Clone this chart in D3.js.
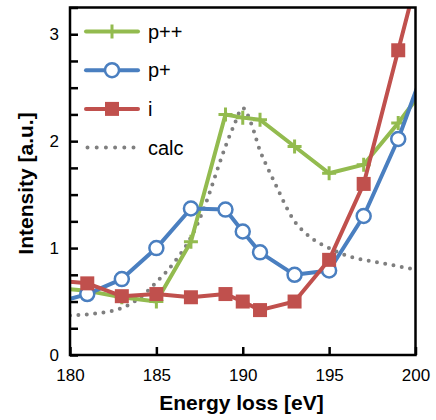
<!DOCTYPE HTML>
<html>
    <head>
        <meta charset="utf-8">
        <style>
            body { margin: 0; background: #fff; }
            text { font-family: "Liberation Sans", Arial, Helvetica, sans-serif; }
        </style>
        <script src="https://d3js.org/d3.v7.min.js"></script>
    </head>
    <body>
        <svg width="436" height="420"></svg>
        <script>
            // measured energies (eV); 179 and 201 lie just outside the frame
            var energy = [179, 181, 183, 185, 187, 189, 190, 191, 193, 195, 197, 199, 201];
            var pPlusPlus = [0.63, 0.60, 0.54, 0.50, 1.06, 2.25, 2.22, 2.20, 1.95, 1.70, 1.78, 2.17, 2.60];
            var pPlus = [0.48, 0.57, 0.71, 1.00, 1.37, 1.36, 1.155, 0.96, 0.75, 0.79, 1.30, 2.02, 2.90];
            var iSeries = [0.70, 0.67, 0.55, 0.57, 0.54, 0.57, 0.50, 0.42, 0.50, 0.89, 1.60, 2.85, 4.10];

            var calcEnergy = [180, 181, 182, 183, 184, 185, 186, 187, 187.5, 188, 188.5, 189, 189.5, 190,
                              190.5, 191, 191.5, 192, 192.5, 193, 193.5, 194, 195, 196, 197, 198, 199, 200];
            var calc = [0.37, 0.38, 0.40, 0.44, 0.53, 0.68, 0.86, 1.10, 1.27, 1.48, 1.72, 1.95, 2.15, 2.31,
                        2.16, 1.91, 1.73, 1.56, 1.39, 1.25, 1.16, 1.09, 1.00, 0.93, 0.89, 0.86, 0.83, 0.80];

            var xTicks = [180, 185, 190, 195, 200];
            var yTicks = [0, 1, 2, 3];
            var yMinorTicks = d3.range(0, 3.26, 0.25);

            var series = [
                { name: "p++", values: pPlusPlus, color: "#93bb4f", marker: "plus" },
                { name: "p+", values: pPlus, color: "#4a7fc0", marker: "circle" },
                { name: "i", values: iSeries, color: "#c0504d", marker: "square" }
            ];

            var svg = d3.select("svg"),
                plotLeft = 70, plotRight = 415.5, plotTop = 7.5, plotBottom = 355;

            var x = d3.scaleLinear().domain([180, 200]).range([plotLeft, plotRight]);
            var y = d3.scaleLinear().domain([0, 3.25]).range([plotBottom, plotTop]);

            svg.append("clipPath").attr("id", "plot")
               .append("rect")
               .attr("x", plotLeft).attr("y", plotTop)
               .attr("width", plotRight - plotLeft).attr("height", plotBottom - plotTop);

            var g = svg.append("g").attr("clip-path", "url(#plot)");

            // calc curve (dotted)
            var calcLine = d3.line()
                .x(function(d, i) { return x(calcEnergy[i]); })
                .y(function(d) { return y(d); })
                .curve(d3.curveMonotoneX);

            g.append("path")
             .attr("d", calcLine(calc))
             .attr("fill", "none")
             .attr("stroke", "#7f7f7f")
             .attr("stroke-width", 4)
             .attr("stroke-linecap", "round")
             .attr("stroke-dasharray", "0 8.4");

            var line = d3.line()
                .x(function(d, i) { return x(energy[i]); })
                .y(function(d) { return y(d); });

            function drawMarker(sel, type, color, cx, cy) {
                if (type == "circle") {
                    sel.append("circle")
                       .attr("cx", cx).attr("cy", cy).attr("r", 7)
                       .attr("fill", "#fff")
                       .attr("stroke", color)
                       .attr("stroke-width", 2.5);
                } else if (type == "square") {
                    sel.append("rect")
                       .attr("x", cx - 7).attr("y", cy - 7)
                       .attr("width", 14).attr("height", 14)
                       .attr("fill", color);
                } else {
                    sel.append("path")
                       .attr("d", "M" + (cx - 7) + "," + cy + "H" + (cx + 7) + "M" + cx + "," + (cy - 7) + "V" + (cy + 7))
                       .attr("stroke", color)
                       .attr("stroke-width", 3);
                }
            }

            series.forEach(function(s) {
                g.append("path")
                 .attr("d", line(s.values))
                 .attr("fill", "none")
                 .attr("stroke", s.color)
                 .attr("stroke-width", 4)
                 .attr("stroke-linejoin", "round");

                s.values.forEach(function(v, i) {
                    drawMarker(g, s.marker, s.color, x(energy[i]), y(v));
                });
            });

            // frame
            svg.append("rect")
               .attr("x", plotLeft).attr("y", plotTop)
               .attr("width", plotRight - plotLeft).attr("height", plotBottom - plotTop)
               .attr("fill", "none")
               .attr("stroke", "#000")
               .attr("stroke-width", 2.5);

            // axes with inward ticks
            var xAxis = svg.append("g")
                .attr("transform", "translate(0," + plotBottom + ")")
                .call(d3.axisBottom(x).tickValues(xTicks).tickSizeInner(-8).tickSizeOuter(0).tickPadding(14));
            xAxis.select(".domain").remove();
            xAxis.selectAll("line").attr("stroke-width", 2.5);
            xAxis.selectAll("text").attr("font-size", "17px").attr("fill", "#000");

            var yMinor = svg.append("g")
                .attr("transform", "translate(" + plotLeft + ",0)")
                .call(d3.axisLeft(y).tickValues(yMinorTicks).tickSizeInner(-8).tickSizeOuter(0).tickFormat(""));
            yMinor.select(".domain").remove();
            yMinor.selectAll("line").attr("stroke-width", 2.5);

            var yAxis = svg.append("g")
                .attr("transform", "translate(" + plotLeft + ",0)")
                .call(d3.axisLeft(y).tickValues(yTicks).tickSize(0).tickPadding(11).tickFormat(d3.format("d")));
            yAxis.select(".domain").remove();
            yAxis.selectAll("text").attr("font-size", "17px").attr("fill", "#000");

            svg.append("text")
               .attr("x", 241.5)
               .attr("y", 410)
               .attr("text-anchor", "middle")
               .attr("font-size", "21px")
               .attr("font-weight", "bold")
               .text("Energy loss [eV]");

            svg.append("text")
               .attr("transform", "translate(33,183.5) rotate(-90)")
               .attr("text-anchor", "middle")
               .attr("font-size", "21px")
               .attr("font-weight", "bold")
               .text("Intensity [a.u.]");

            // legend
            var legend = svg.append("g");
            var legendRows = series.concat([{ name: "calc", color: "#7f7f7f", marker: "dots" }]);
            legendRows.forEach(function(s, i) {
                var ly = 31.5 + i * 38.7;
                var row = legend.append("g");
                if (s.marker == "dots") {
                    row.append("line")
                       .attr("x1", 87.5).attr("x2", 134).attr("y1", ly).attr("y2", ly)
                       .attr("stroke", s.color)
                       .attr("stroke-width", 4)
                       .attr("stroke-linecap", "round")
                       .attr("stroke-dasharray", "0 9.2");
                } else {
                    row.append("line")
                       .attr("x1", 86).attr("x2", 138).attr("y1", ly).attr("y2", ly)
                       .attr("stroke", s.color)
                       .attr("stroke-width", 4)
                       .attr("stroke-linecap", "round");
                    drawMarker(row, s.marker, s.color, 112, ly);
                }
                row.append("text")
                   .attr("x", 148)
                   .attr("y", ly + 7)
                   .attr("font-size", "20px")
                   .text(s.name);
            });
        </script>
    </body>
</html>
